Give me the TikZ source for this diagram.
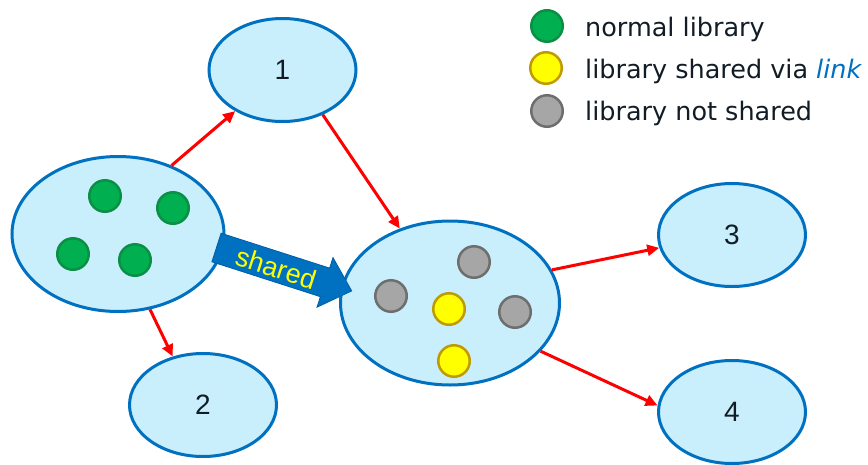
\documentclass[tikz,border=0pt]{standalone}
\usepackage{fontspec}
\setmainfont{Liberation Sans}
\newfontfamily\legendfont{DejaVu Sans}
\usetikzlibrary{shapes.geometric,arrows.meta}

\definecolor{bubblefill}{HTML}{C9EEFC}
\definecolor{bubbleline}{HTML}{0070C0}
\definecolor{libgreen}{HTML}{00B050}
\definecolor{libgreenline}{HTML}{0B8E45}
\definecolor{libyellow}{HTML}{FFFF00}
\definecolor{libyellowline}{HTML}{BF9A00}
\definecolor{libgray}{HTML}{A6A6A6}
\definecolor{libgrayline}{HTML}{6E6E6E}
\definecolor{flowred}{HTML}{FF0000}
\definecolor{inktext}{HTML}{111C26}

\begin{document}
\begin{tikzpicture}[x=1pt,y=-1pt,
  bubble/.style={ellipse, draw=bubbleline, fill=bubblefill, line width=3pt,
    inner sep=0pt, font=\fontsize{28}{32}\selectfont, text=inktext},
  smallbubble/.style={bubble, minimum width=147pt, minimum height=103pt},
  lib/.style={circle, line width=2.5pt, minimum size=31.5pt, inner sep=0pt},
  normallib/.style={lib, fill=libgreen, draw=libgreenline},
  sharedlib/.style={lib, fill=libyellow, draw=libyellowline},
  privlib/.style={lib, fill=libgray, draw=libgrayline},
  flow/.style={draw=flowred, line width=3pt, -{Triangle[length=12pt,width=11pt]}},
  keytext/.style={anchor=base west, inner sep=0pt, text=inktext,
    font=\legendfont\fontsize{25.5}{30}\selectfont},
]
\useasboundingbox (0,0) rectangle (868,464);

% ellipses
\node[bubble, minimum width=212pt, minimum height=155pt] (src) at (118,234) {};
\node[smallbubble] (n1) at (282.5,70) {1};
\node[smallbubble] (n2) at (203,405) {2};
\node[bubble, minimum width=219pt, minimum height=164pt] (mid) at (450,303) {};
\node[smallbubble] (n3) at (732,235) {3};
\node[smallbubble] (n4) at (732,412) {4};

% libraries in the source
\node[normallib] (g1) at (105,196) {};
\node[normallib] (g2) at (173,208) {};
\node[normallib] (g3) at (73,254) {};
\node[normallib] (g4) at (135,260) {};

% libraries in the target
\node[privlib] (p1) at (474,262) {};
\node[privlib] (p2) at (391,296) {};
\node[privlib] (p3) at (515,312) {};
\node[sharedlib] (s1) at (449,309) {};
\node[sharedlib] (s2) at (454,361) {};

% red connectors
\draw[flow] (src.52) -- (n1.221);
\draw[flow] (src.293) -- (n2.122);
\draw[flow] (n1.312) -- (mid.124);
\draw[flow] (mid.18) -- (n3.190);
\draw[flow] (mid.332) -- (n4.175);

% block arrow "shared"
\filldraw[fill=bubbleline, draw=bubbleline!85!black, line width=0.8pt]
  (221.1,233.2) -- (329.6,268.1) -- (333,257.6) -- (351.7,290.9)
  -- (317,307.2) -- (320.4,296.7) -- (211.9,261.8) -- cycle;
\node[rotate=-17.8, text=libyellow, inner sep=0pt,
  font=\fontsize{27}{30}\selectfont] (sharedlabel) at (276,268) {shared};

% legend
\node[normallib] (kgreen) at (547,26) {};
\node[sharedlib] (kyellow) at (546,68) {};
\node[privlib] (kgray) at (547,111) {};
\node[keytext] (tgreen) at (585,36) {normal library};
\node[keytext] (tyellow) at (585,78) {library shared via \textcolor{bubbleline}{\itshape link}};
\node[keytext] (tgray) at (585,120) {library not shared};
\end{tikzpicture}
\end{document}
